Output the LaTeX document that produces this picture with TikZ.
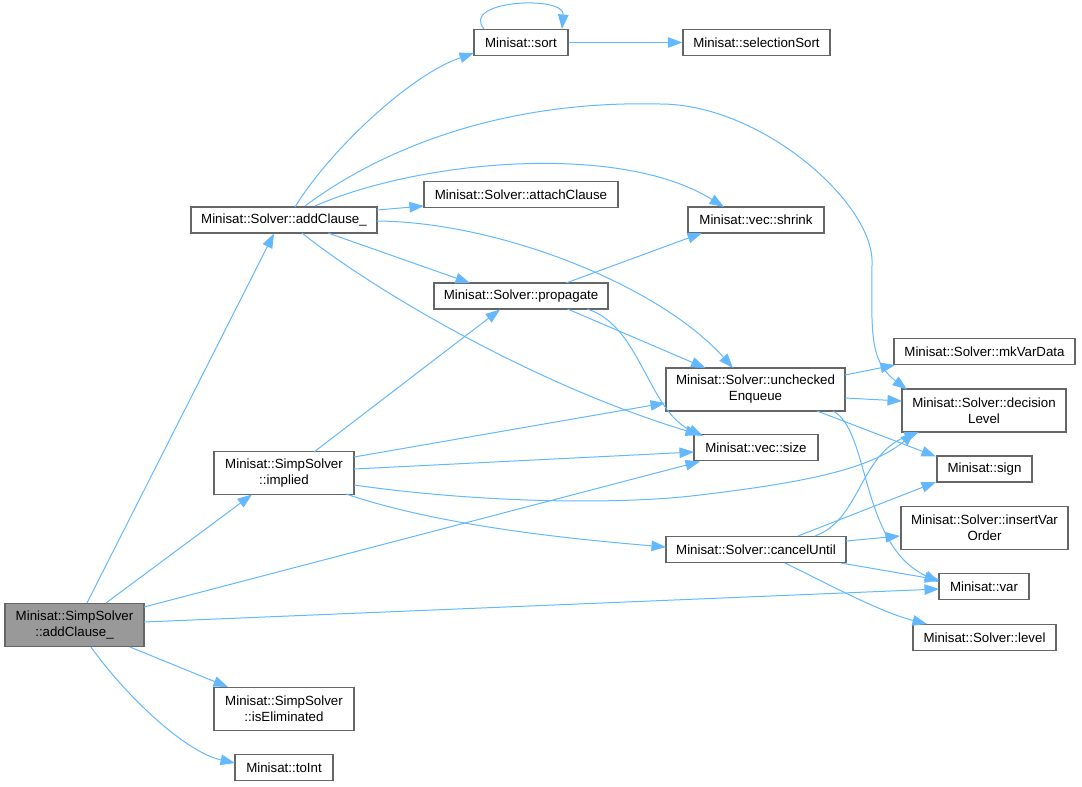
\documentclass[tikz,border=0pt]{standalone}
\usepackage{fontspec}
\newfontfamily\graphfont{Liberation Sans}
\usetikzlibrary{arrows.meta,calc}
\definecolor{edgeblue}{RGB}{99,184,255}
\definecolor{boxline}{RGB}{102,102,102}
\definecolor{rootfill}{RGB}{153,153,153}
\tikzset{every picture/.style={line width=1pt}}
\tikzset{
  fn/.style={draw=boxline, line width=1.2pt, fill=white, inner sep=0pt, minimum height=26pt, align=center, font=\graphfont\fontsize{13.3}{16}\selectfont},
  fntwo/.style={fn, minimum height=43pt},
  call/.style={draw=edgeblue, line width=1pt, -{Triangle[length=14.5pt,width=10.5pt]}},
}

\begin{document}
\begin{tikzpicture}[x=1pt,y=1pt,yscale=-1,xscale=1]
		\useasboundingbox (0,0) rectangle (1082,787);

		% Function boxes
		\node[fntwo, fill=rootfill, minimum width=139pt] (sac) at (74.5,625) {Minisat::SimpSolver\\::addClause\_};
		\node[fn, minimum width=186pt] (ac) at (284,220) {Minisat::Solver::addClause\_};
		\node[fn, minimum width=94pt] (sort) at (521,42.5) {Minisat::sort};
		\node[fn, minimum width=147pt] (selsort) at (756.5,42.5) {Minisat::selectionSort};
		\node[fn, minimum width=194pt] (attach) at (521,194.5) {Minisat::Solver::attachClause};
		\node[fn, minimum width=136pt] (shrink) at (756,220) {Minisat::vec::shrink};
		\node[fn, minimum width=174pt] (prop) at (521,296) {Minisat::Solver::propagate};
		\node[fntwo, minimum width=179pt] (uenq) at (755.5,389.5) {Minisat::Solver::unchecked\\Enqueue};
		\node[fn, minimum width=181pt] (mkvar) at (984.5,351.5) {Minisat::Solver::mkVarData};
		\node[fntwo, minimum width=164pt] (declvl) at (984,410.5) {Minisat::Solver::decision\\Level};
		\node[fn, minimum width=124pt] (size) at (756,447.5) {Minisat::vec::size};
		\node[fn, minimum width=95pt] (sign) at (984.5,469) {Minisat::sign};
		\node[fntwo, minimum width=140pt] (implied) at (284,473) {Minisat::SimpSolver\\::implied};
		\node[fntwo, minimum width=167pt] (ivo) at (984.5,528) {Minisat::Solver::insertVar\\Order};
		\node[fn, minimum width=180pt] (cancel) at (756,549.5) {Minisat::Solver::cancelUntil};
		\node[fn, minimum width=90pt] (var) at (984,586.5) {Minisat::var};
		\node[fn, minimum width=143pt] (level) at (984.5,637.5) {Minisat::Solver::level};
		\node[fntwo, minimum width=140pt] (iselim) at (284,709) {Minisat::SimpSolver\\::isEliminated};
		\node[fn, minimum width=98pt] (toint) at (284,767.5) {Minisat::toInt};

		% Calls of SimpSolver::addClause_
		\draw[call] ($(sac)+(12.5,-22)$) -- ($(ac)+(-10,13.5)$);
		\draw[call] ($(sac)+(31.5,-22)$) -- ($(implied)+(-32,21.5)$);
		\draw[call] ($(sac)+(69.5,-18)$) -- ($(size)+(-56,14)$);
		\draw[call] ($(sac)+(69.5,-3)$) -- ($(var)+(-45,2.5)$);
		\draw[call] ($(sac)+(55.5,22)$) -- ($(iselim)+(-56,-22)$);
		\draw[call] ($(sac)+(16.5,22)$) .. controls +(34,48) and +(-50,-11) .. ($(toint)+(-49,-4.5)$);

		% Calls of Solver::addClause_
		\draw[call] ($(ac)+(11,-13)$) .. controls +(35,-57) and +(-64,22) .. ($(sort)+(-47,10.5)$);
		\draw[call] ($(ac)+(21,-14)$) .. controls (380,150) and (500,100) .. (660,104) .. controls (760,104) and (870,200) .. (872,260) .. controls (872,330) and (868,360) .. ($(declvl)+(-77,-21)$);
		\draw[call] ($(ac)+(31,-14)$) .. controls +(105,-46) and +(-104,-65) .. ($(shrink)+(-32,-13)$);
		\draw[call] ($(ac)+(93,-10)$) -- ($(attach)+(-97,11.5)$);
		\draw[call] ($(ac)+(93,1)$) .. controls +(123,1) and +(-73,-82) .. ($(uenq)+(-22.5,-21.5)$);
		\draw[call] ($(ac)+(44,13)$) -- ($(prop)+(-51,-13)$);
		\draw[call] ($(ac)+(18,13)$) .. controls +(58,47) and +(-180,-55) .. ($(size)+(-56,-12.5)$);

		% sort
		\draw[call] ($(sort)+(-37,-13.5)$) .. controls +(-24,-29) and +(3,-34) .. ($(sort)+(41,-13.5)$);
		\draw[call] (sort.east) -- (selsort.west);

		% propagate
		\draw[call] ($(prop)+(45,-13)$) -- ($(shrink)+(-54,13)$);
		\draw[call] ($(prop)+(46.5,13)$) -- ($(uenq)+(-50,-21.5)$);
		\draw[call] ($(prop)+(66,13)$) .. controls +(53,16) and +(-55,-26) .. ($(size)+(-53,-11.5)$);

		% uncheckedEnqueue
		\draw[call] ($(uenq)+(89.5,-14.5)$) -- ($(mkvar)+(-89.5,13.5)$);
		\draw[call] ($(uenq)+(89.5,8.5)$) -- ($(declvl)+(-82,-9.5)$);
		\draw[call] ($(uenq)+(61.5,21.5)$) -- ($(sign)+(-48.5,-12.5)$);
		\draw[call] ($(uenq)+(77.5,21.5)$) .. controls +(37,19) and +(-79,-37) .. ($(var)+(-45,-4.5)$);

		% SimpSolver::implied
		\draw[call] ($(implied)+(30,-21)$) -- ($(prop)+(-21,13.5)$);
		\draw[call] ($(implied)+(70,-16)$) -- ($(uenq)+(-90.5,13.5)$);
		\draw[call] ($(implied)+(70,-4)$) -- ($(size)+(-62,4.5)$);
		\draw[call] ($(implied)+(70,12)$) .. controls (480,503) and (620,505) .. (700,495) .. controls (800,483) and (870,470) .. ($(declvl)+(-69,21.5)$);
		\draw[call] ($(implied)+(62,21)$) .. controls +(74,25) and +(-145,-12) .. ($(cancel)+(-90,-2.5)$);

		% cancelUntil
		\draw[call] ($(cancel)+(42,-13.5)$) -- ($(sign)+(-48.5,13)$);
		\draw[call] ($(cancel)+(59,-13.5)$) .. controls +(45,-16) and +(-59,22) .. ($(declvl)+(-65,21.5)$);
		\draw[call] ($(cancel)+(90,-8.5)$) -- ($(ivo)+(-84.5,8)$);
		\draw[call] ($(cancel)+(85,13.5)$) -- ($(var)+(-44.5,-6.5)$);
		\draw[call] ($(cancel)+(29,13.5)$) .. controls +(45,22) and +(-47,-12) .. ($(level)+(-57.5,-13.5)$);

	\end{tikzpicture}
\end{document}
